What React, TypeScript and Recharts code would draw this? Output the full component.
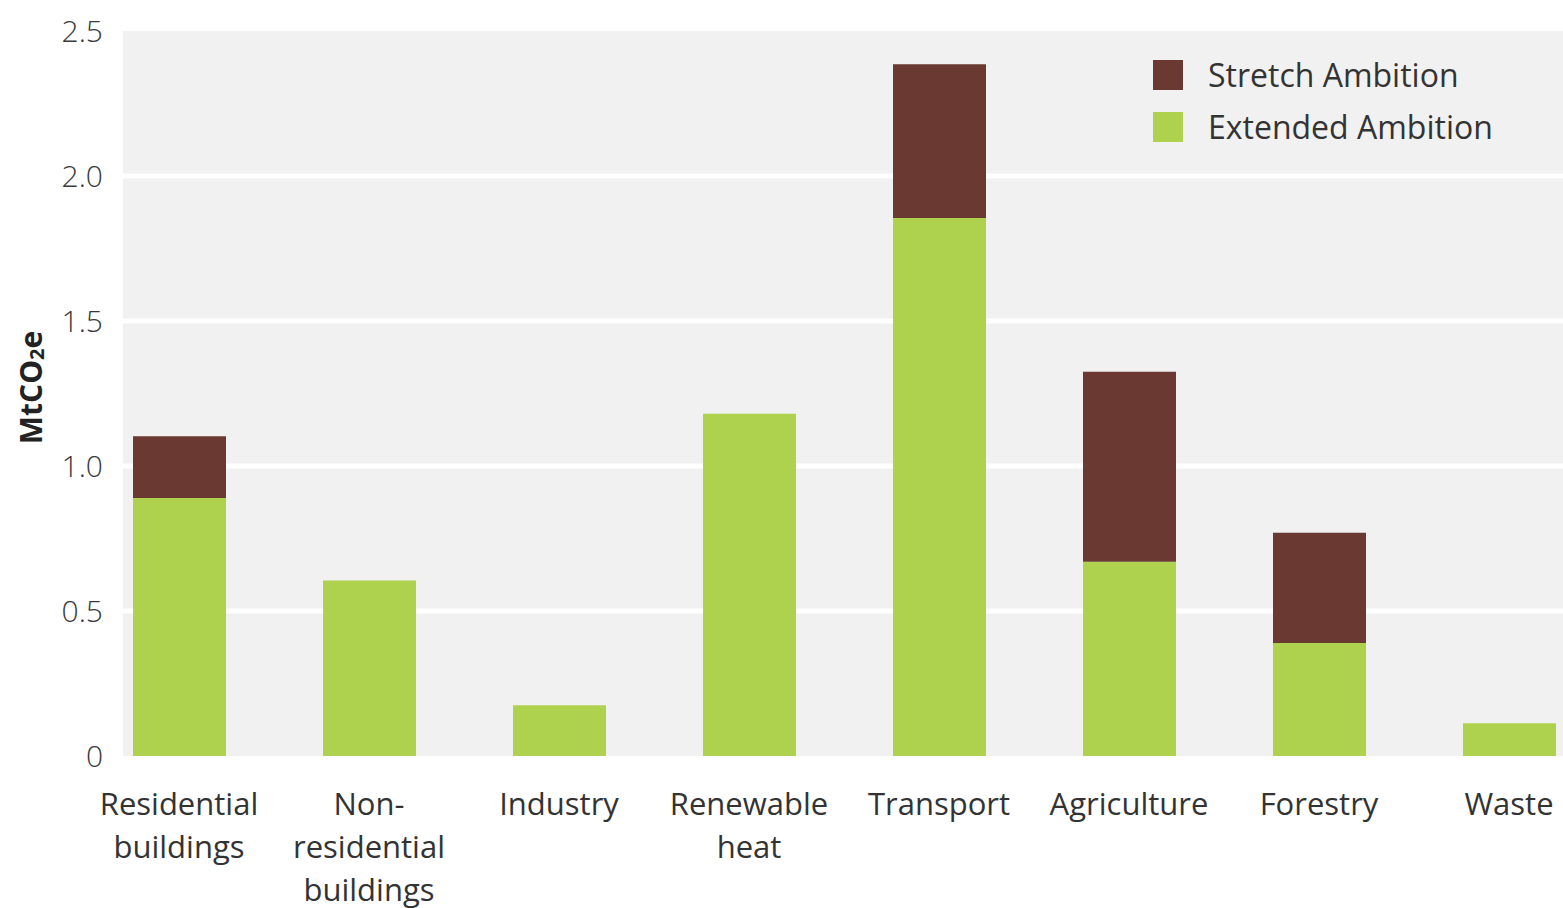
import React from 'react';
import { BarChart, Bar, XAxis, YAxis, CartesianGrid, Legend } from 'recharts';

const categories = [
  'Residential buildings',
  'Non-residential buildings',
  'Industry',
  'Renewable heat',
  'Transport',
  'Agriculture',
  'Forestry',
  'Waste',
];
const categoryLabelLines = [
  ['Residential', 'buildings'],
  ['Non-', 'residential', 'buildings'],
  ['Industry'],
  ['Renewable', 'heat'],
  ['Transport'],
  ['Agriculture'],
  ['Forestry'],
  ['Waste'],
];
const extendedAmbition = [0.89, 0.605, 0.175, 1.18, 1.855, 0.67, 0.39, 0.113];
const stretchAmbition = [0.213, 0, 0, 0, 0.53, 0.655, 0.38, 0];
const yTicks = [0, 0.5, 1.0, 1.5, 2.0, 2.5];
const yTickLabels = ['0', '0.5', '1.0', '1.5', '2.0', '2.5'];
const gridValues = [0.5, 1.0, 1.5, 2.0];

const seriesNames = { extended: 'Extended Ambition', stretch: 'Stretch Ambition' };
const colors = { extended: '#AED24E', stretch: '#6A3A32' };

const data = categories.map((c, i) => ({
  category: c,
  extended: extendedAmbition[i],
  stretch: stretchAmbition[i],
}));

const FONT = '"Open Sans", "Noto Sans", sans-serif';
const TEXT = '#333333';

const XTick = (props: any) => {
  const { x, y, payload } = props;
  const idx = categories.indexOf(payload.value);
  const lines = idx >= 0 ? categoryLabelLines[idx] : [payload.value];
  return (
    <text x={x} y={y} textAnchor="middle" fill={TEXT} fontSize={31} fontFamily={FONT}>
      {lines.map((l: string, i: number) => (
        <tspan key={i} x={x} dy={i === 0 ? 59 : 43}>
          {l}
        </tspan>
      ))}
    </text>
  );
};

const YLabel = (props: any) => {
  const vb = props.viewBox || {};
  const cx = 30;
  const cy = (vb.y ?? 0) + (vb.height ?? 0) / 2 - 6;
  return (
    <text
      x={cx}
      y={cy}
      transform={`rotate(-90 ${cx} ${cy})`}
      textAnchor="middle"
      dominantBaseline="central"
      fill="#222"
      fontSize={30}
      fontWeight={700}
      fontFamily={FONT}
    >
      MtCO
      <tspan fontSize={20} dy={6}>2</tspan>
      <tspan dy={-6}>e</tspan>
    </text>
  );
};

const LegendContent = (props: any) => {
  const items = (props.payload || []).slice().reverse();
  return (
    <div style={{ fontFamily: FONT }}>
      {items.map((it: any, i: number) => (
        <div
          key={i}
          style={{ display: 'flex', alignItems: 'center', height: 30, marginBottom: i === 0 ? 22 : 0 }}
        >
          <div style={{ width: 30, height: 30, background: it.color, marginRight: 25 }} />
          <span style={{ fontSize: 32, color: TEXT, lineHeight: '30px', whiteSpace: 'nowrap' }}>{it.value}</span>
        </div>
      ))}
    </div>
  );
};

export default function App() {
  return (
    <div style={{ width: 1563, height: 908, position: 'relative', overflow: 'hidden' }}>
      <style>{'html,body{margin:0;padding:0;overflow:hidden;background:#fff}'}</style>
      <BarChart
        width={1563}
        height={908}
        data={data}
        margin={{ top: 31, right: 0, left: 0, bottom: 0 }}
        barSize={93}
      >
        <CartesianGrid
          vertical={false}
          horizontalValues={gridValues}
          stroke="#FFFFFF"
          strokeWidth={5}
          fill="#F1F1F1"
          fillOpacity={1}
        />
        <XAxis
          dataKey="category"
          height={152}
          axisLine={false}
          tickLine={false}
          tickSize={0}
          tickMargin={0}
          interval={0}
          padding={{ left: -39, right: -41 }}
          tick={<XTick />}
        />
        <YAxis
          width={123}
          domain={[0, 2.5]}
          ticks={yTicks}
          axisLine={false}
          tickLine={false}
          tickSize={0}
          tickMargin={20}
          tickFormatter={(v: number) => yTickLabels[yTicks.indexOf(v)] ?? String(v)}
          tick={{ fontSize: 30, fill: '#3a3a3a', fontFamily: FONT, fontWeight: 300 }}
          label={<YLabel />}
        />
        <Legend
          layout="vertical"
          align="center"
          verticalAlign="middle"
          content={<LegendContent />}
          wrapperStyle={{ left: 1153, top: 60, width: 'auto', height: 'auto' }}
        />
        <Bar dataKey="extended" name={seriesNames.extended} stackId="a" fill={colors.extended} isAnimationActive={false} />
        <Bar dataKey="stretch" name={seriesNames.stretch} stackId="a" fill={colors.stretch} isAnimationActive={false} />
      </BarChart>
    </div>
  );
}
